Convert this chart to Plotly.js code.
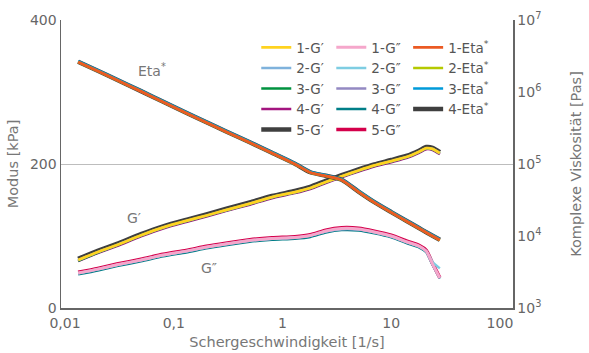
<!DOCTYPE html>
<html>
<head>
<meta charset="utf-8">
<script src="https://cdn.plot.ly/plotly-3.0.1.min.js"></script>
<style>html,body{margin:0;padding:0;background:#fff;}#chart{width:589px;height:353px;}</style>
</head>
<body>
<div id="chart"></div>
<script>
// Shear rate [1/s]
const shearRate = [0.0132, 0.02, 0.03, 0.05, 0.08, 0.13, 0.2, 0.3, 0.5, 0.8, 1.3, 1.8, 2.5, 3.5, 5, 7, 10, 14, 18, 21, 24, 28];

// Storage modulus G' [kPa]
const gp1 = [66.7, 77.8, 87.5, 101, 112, 121, 128.5, 136, 145, 154, 161, 166.7, 175, 183, 191, 198, 204, 210, 217, 222, 221, 215];
const gp2 = [66.5, 77.6, 87.4, 100.8, 111.8, 120.8, 128.3, 135.8, 144.8, 153.8, 160.8, 166.5, 174.8, 182.8, 190.8, 197.8, 203.8, 209.8, 216.8, 221.8, 220.8, 214.8];
const gp3 = [65.5, 77, 87, 100.5, 111.5, 120.5, 128, 135.5, 144.5, 153.5, 160.5, 166.2, 174.5, 182.5, 190.5, 197.5, 203.5, 209.5, 216.5, 221.5, 220.5, 214.5];
const gp4 = [65.2, 76.3, 86, 99.5, 110.5, 119.5, 127, 134.5, 143.5, 152.5, 159.5, 165.2, 173.5, 181.5, 189.5, 196.5, 202.5, 208.5, 215.5, 220.5, 219.5, 213.5];
const gp5 = [68.2, 79.3, 89, 102.5, 113.5, 122.5, 130, 137.5, 146.5, 155.5, 162.5, 168.2, 176.5, 184.5, 192.5, 199.5, 205.5, 211.5, 218.5, 223.5, 222.5, 216.5];

// Loss modulus G'' [kPa]
const gpp1 = [48.6, 54, 60, 66.7, 73.6, 79, 84.7, 89, 93.8, 96.5, 98, 100.7, 107, 110.4, 109.7, 105.6, 100, 91.7, 86, 79, 61, 41.7];
const gpp2 = [48.4, 53.8, 59.8, 66.5, 73.4, 78.8, 84.5, 88.8, 93.6, 96.3, 97.8, 100.5, 106.5, 109.8, 109.2, 105.2, 99.6, 91.4, 85.7, 79, 64, 55];
const gpp3 = [48.2, 53.6, 59.6, 66.3, 73.2, 78.6, 84.3, 88.6, 93.4, 96.1, 97.6, 100.2, 106.2, 109.5, 109, 105, 99.4, 91.2, 85.5, 78.5, 60.5, 41.5];
const gpp4 = [46.8, 52.2, 58.2, 64.9, 71.8, 77.2, 82.9, 87.2, 92, 94.7, 96.2, 98.7, 104.8, 108.2, 107.7, 103.8, 98.2, 90, 84.3, 77.5, 60, 41];
const gpp5 = [49.6, 55, 61, 67.7, 74.6, 80, 85.7, 90, 94.8, 97.5, 99, 101.7, 108.2, 111.6, 110.9, 106.8, 101.2, 92.8, 87.1, 80.1, 62, 42];

// Complex viscosity Eta* [Pas]
const eta1 = [2.61e6, 1.96e6, 1.47e6, 1.02e6, 7.26e5, 5.11e5, 3.77e5, 2.83e5, 1.99e5, 1.42e5, 1.0e5, 7.62e4, 6.81e4, 6.0e4, 4.11e4, 2.93e4, 2.13e4, 1.59e4, 1.28e4, 1.12e4, 1.0e4, 8.8e3];
const eta2 = [2.60e6, 1.95e6, 1.465e6, 1.018e6, 7.24e5, 5.10e5, 3.76e5, 2.82e5, 1.985e5, 1.415e5, 0.998e5, 7.6e4, 6.8e4, 5.98e4, 4.1e4, 2.92e4, 2.125e4, 1.585e4, 1.277e4, 1.118e4, 0.998e4, 8.78e3];
const eta3 = [2.68e6, 2.01e6, 1.51e6, 1.05e6, 7.45e5, 5.25e5, 3.87e5, 2.91e5, 2.04e5, 1.46e5, 1.03e5, 7.82e4, 7.0e4, 6.17e4, 4.23e4, 3.01e4, 2.19e4, 1.635e4, 1.315e4, 1.15e4, 1.028e4, 9.05e3];
const eta4 = [2.63e6, 1.975e6, 1.48e6, 1.028e6, 7.31e5, 5.15e5, 3.80e5, 2.85e5, 2.005e5, 1.43e5, 1.008e5, 7.68e4, 6.86e4, 6.05e4, 4.14e4, 2.95e4, 2.145e4, 1.6e4, 1.29e4, 1.128e4, 1.007e4, 8.87e3];

const xTickVals = [0.01, 0.1, 1, 10, 100];
const xTickText = ['0,01', '0,1', '1', '10', '100'];
const y2TickVals = [1e3, 1e4, 1e5, 1e6, 1e7];
const y2TickText = ['10<sup>3</sup>', '10<sup>4</sup>', '10<sup>5</sup>', '10<sup>6</sup>', '10<sup>7</sup>'];

const gpSeries = [
  {name: "1-G′", y: gp1, color: '#FFD320', w: 2.8},
  {name: "2-G′", y: gp2, color: '#7FB2DC', w: 2.5},
  {name: "3-G′", y: gp3, color: '#00923F', w: 2.5},
  {name: "4-G′", y: gp4, color: '#A3157F', w: 2.5},
  {name: "5-G′", y: gp5, color: '#3F3F3F', w: 4.5}
];
const gppSeries = [
  {name: "1-G″", y: gpp1, color: '#F5A7CB', w: 3},
  {name: "2-G″", y: gpp2, color: '#7ECDE2', w: 2.5},
  {name: "3-G″", y: gpp3, color: '#9389C2', w: 2.5},
  {name: "4-G″", y: gpp4, color: '#007E87', w: 2.5},
  {name: "5-G″", y: gpp5, color: '#D4004B', w: 3.5}
];
const etaSeries = [
  {name: "1-Eta<sup>*</sup>", y: eta1, color: '#EB5A23', w: 2.8},
  {name: "2-Eta<sup>*</sup>", y: eta2, color: '#B5C900', w: 2.5},
  {name: "3-Eta<sup>*</sup>", y: eta3, color: '#009AD9', w: 2.5},
  {name: "4-Eta<sup>*</sup>", y: eta4, color: '#3F3F3F', w: 4.5}
];

function mk(s, legend, yaxis) {
  return {
    x: shearRate, y: s.y, name: s.name, type: 'scatter', mode: 'lines',
    line: {color: s.color, width: s.w, shape: 'spline', smoothing: 0.6},
    legend: legend, yaxis: yaxis, hoverinfo: 'skip'
  };
}
const traces = [];
gpSeries.slice().reverse().forEach(s => traces.push(mk(s, 'legend', 'y')));
gppSeries.slice().reverse().forEach(s => traces.push(mk(s, 'legend2', 'y')));
etaSeries.slice().reverse().forEach(s => traces.push(mk(s, 'legend3', 'y2')));

const FAM = 'DejaVu Sans, Verdana, sans-serif';
const tickFont = {family: FAM, size: 14, color: '#666'};
const titleFont = {family: FAM, size: 14.5, color: '#777'};
const legFont = {family: FAM, size: 13.5, color: '#555'};
const annFont = {family: FAM, size: 14, color: '#777'};

function leg(x) {
  return {x: x, y: 0.958, xanchor: 'left', yanchor: 'top', traceorder: 'reversed',
    font: legFont, bgcolor: 'rgba(0,0,0,0)', borderwidth: 0, itemwidth: 30,
    tracegroupgap: 0};
}

const layout = {
  width: 589, height: 353,
  margin: {l: 61, r: 76, t: 20, b: 45, pad: 0},
  paper_bgcolor: '#fff', plot_bgcolor: '#fff',
  showlegend: true,
  legend: leg(0.432), legend2: leg(0.598), legend3: leg(0.768),
  xaxis: {
    type: 'log', range: [-2.037, 2.12],
    tickvals: xTickVals, ticktext: xTickText, tickfont: tickFont,
    showgrid: false, zeroline: false, showline: true, linecolor: '#666', linewidth: 1.5,
    ticks: '', ticklabelstandoff: 2,
    title: {text: 'Schergeschwindigkeit [1/s]', font: titleFont, standoff: 6}
  },
  yaxis: {
    range: [0, 400], tickvals: [0, 200, 400], tickfont: tickFont,
    showgrid: true, gridcolor: '#bdbdbd', gridwidth: 1, zeroline: false,
    showline: true, linecolor: '#666', linewidth: 1.5, ticks: '',
    title: {text: 'Modus [kPa]', font: titleFont, standoff: 8}
  },
  yaxis2: {
    type: 'log', range: [3, 7], overlaying: 'y', side: 'right',
    tickvals: y2TickVals, ticktext: y2TickText, tickfont: tickFont,
    showgrid: false, zeroline: false, showline: true, linecolor: '#666', linewidth: 1.5, ticks: '',
    title: {text: 'Komplexe Viskosität [Pas]', font: titleFont, standoff: 30}
  },
  annotations: [
    {x: -1.2, y: 330, xref: 'x', yref: 'y', text: 'Eta<sup>*</sup>', showarrow: false, font: annFont},
    {x: -1.37, y: 125, xref: 'x', yref: 'y', text: 'G′', showarrow: false, font: annFont},
    {x: -0.68, y: 55, xref: 'x', yref: 'y', text: 'G″', showarrow: false, font: annFont}
  ]
};

Plotly.newPlot('chart', traces, layout, {displayModeBar: false, staticPlot: true});
</script>
</body>
</html>
